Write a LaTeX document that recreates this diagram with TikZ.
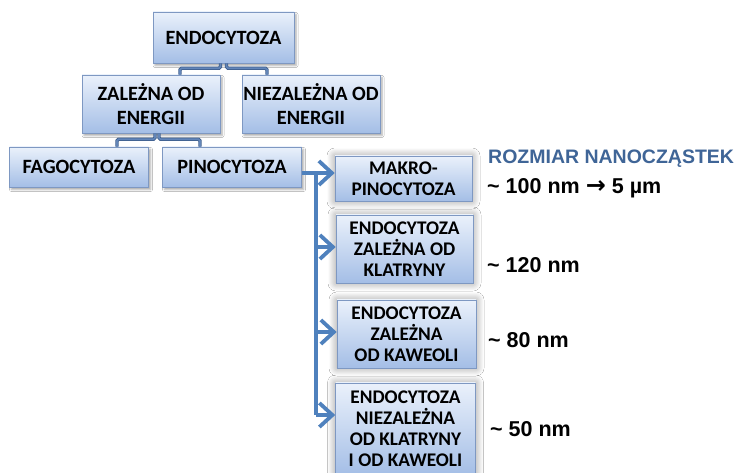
\documentclass[tikz,border=0pt]{standalone}
\usepackage{fontspec}
\setmainfont{Carlito}
\newfontfamily\arialfont{Liberation Sans}
\newfontfamily\arrowfont{DejaVu Sans}
\usepackage{tikz}
\usetikzlibrary{arrows.meta,calc,shadows.blur}
\definecolor{boxtop}{HTML}{EAF1FB}
\definecolor{boxbottom}{HTML}{A4BEE6}
\definecolor{boxline}{HTML}{7E98C2}
\definecolor{linkblue}{HTML}{3E5F8E}
\definecolor{linkfill}{HTML}{6285B8}
\definecolor{flowblue}{HTML}{4F81BD}
\definecolor{titleblue}{HTML}{3F6597}
\tikzset{
  basebox/.style={draw=boxline, line width=0.6pt, top color=boxtop, bottom color=boxbottom,
    align=center, inner sep=1pt},
  box/.style={basebox, font=\fontsize{20.3}{23.5}\selectfont\bfseries,
    blur shadow={shadow xshift=2pt, shadow yshift=-2.5pt,
    shadow blur radius=2pt, shadow opacity=35}},
  glowbox/.style={basebox, font=\fontsize{19.3}{21}\selectfont\bfseries,
    blur shadow={shadow xshift=0pt, shadow yshift=0pt, shadow blur steps=12,
    shadow blur radius=8pt, shadow opacity=45}},
  link/.style={draw=linkblue, line width=0.9pt, double=linkfill, double distance=1.6pt,
    rounded corners=1.5pt},
  trunk/.style={draw=flowblue, line width=3.8pt},
  flow/.style={trunk, -{Straight Barb[length=13pt, width=24pt]}},
  sizelabel/.style={anchor=base west, inner sep=0pt,
    font=\arialfont\fontsize{21.5}{25}\selectfont\bfseries}
}
\begin{document}
\begin{tikzpicture}[x=1pt, y=-1pt]
\useasboundingbox[fill=white] (0,0) rectangle (740,473);

% hierarchy
\node[box, minimum width=141pt, minimum height=51pt] (endo) at (223.5,37.5) {ENDOCYTOZA};
\node[box, minimum width=138pt, minimum height=58pt] (zal) at (151,104) {ZALEŻNA OD\\ENERGII};
\node[box, minimum width=138pt, minimum height=58pt] (niezal) at (311,104) {NIEZALEŻNA OD\\ENERGII};
\node[box, minimum width=139pt, minimum height=40pt] (fago) at (79,167) {FAGOCYTOZA};
\node[box, minimum width=139pt, minimum height=40pt] (pino) at (232,167) {PINOCYTOZA};

\draw[link] ([xshift=-3pt]endo.south) -- ++(0,5) -| ([xshift=29pt]zal.north);
\draw[link] ([xshift=3pt]endo.south) -- ++(0,5) -| ([xshift=-44pt]niezal.north);
\draw[link] ([xshift=4pt]zal.south) -- ++(0,6) -| ([xshift=38pt]fago.north);
\draw[link] ([xshift=8pt]zal.south) -- ++(0,6) -| ([xshift=-32pt]pino.north);

% pinocytoza
\node[glowbox, minimum width=137pt, minimum height=45pt] (makro) at (403.5,178.5) {MAKRO-\\PINOCYTOZA};
\node[glowbox, minimum width=137pt, minimum height=68pt] (klat) at (404.5,249) {ENDOCYTOZA\\ZALEŻNA OD\\KLATRYNY};
\node[glowbox, minimum width=139pt, minimum height=68pt] (kaw) at (406.5,334) {ENDOCYTOZA\\ZALEŻNA\\OD KAWEOLI};
\node[glowbox, minimum width=140pt, minimum height=92pt] (niezkk) at (405.5,429) {ENDOCYTOZA\\NIEZALEŻNA\\OD KLATRYNY\\I OD KAWEOLI};

\coordinate (split) at ($(pino.east)+(14,6)$);
\coordinate (trunkend) at ($(niezkk.west)+(0,-14)$);
\draw[trunk] (split) -- (split |- trunkend);
\draw[flow] (pino.east |- split) -- (split -| makro.west);
\foreach \b/\dy in {klat/2, kaw/2, niezkk/14}{
  \coordinate (tip) at ($(\b.west)+(0,-\dy)$);
  \draw[flow] (split |- tip) -- (tip);
}

% sizes
\node[sizelabel, text=titleblue, font=\arialfont\fontsize{19.5}{23}\selectfont\bfseries] (title) at (488,164) {ROZMIAR NANOCZĄSTEK};
\node[sizelabel] (s1) at (487,194) {\textasciitilde{} 100 nm {\arrowfont\fontsize{24}{25}\selectfont →} 5 µm};
\node[sizelabel] (s2) at (487,273) {\textasciitilde{} 120 nm};
\node[sizelabel] (s3) at (488,348) {\textasciitilde{} 80 nm};
\node[sizelabel] (s4) at (490,436) {\textasciitilde{} 50 nm};
\end{tikzpicture}
\end{document}
